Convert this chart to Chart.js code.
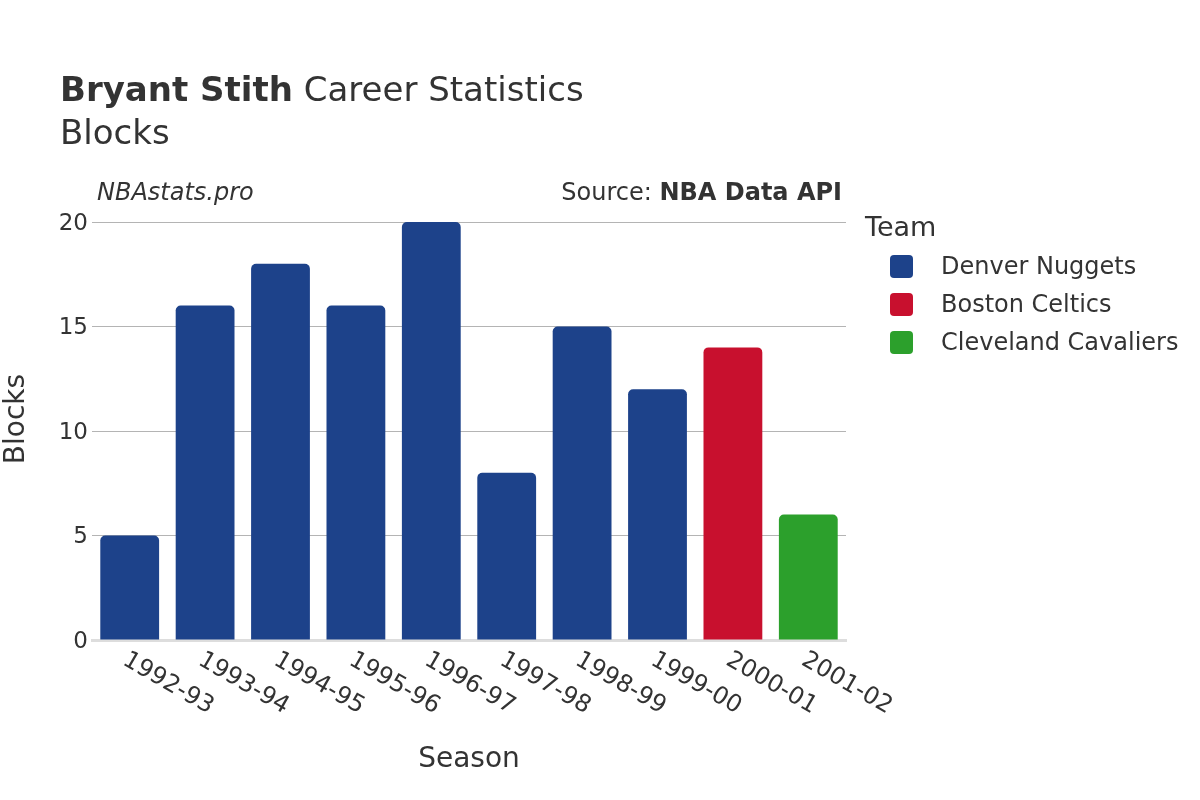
<!DOCTYPE html>
<html>
<head>
<meta charset="utf-8">
<script src="https://cdn.jsdelivr.net/npm/chart.js@4.4.1/dist/chart.umd.min.js"></script>
<style>
    body { margin: 0; background: #fff; font-family: 'DejaVu Sans', sans-serif; color: #333; }
    #wrap { position: relative; width: 1200px; height: 800px; overflow: hidden; }
    #chart { position: absolute; left: 0; top: 0; }
    .txt { position: absolute; white-space: nowrap; line-height: 1; }
    .title { left: 60px; top: 72px; font-size: 34px; }
    .subtitle { left: 60px; top: 115px; font-size: 34px; }
    .brand { left: 97px; top: 180px; font-size: 24px; font-style: italic; }
    .source { right: 358px; top: 180px; font-size: 24px; }
    .legend-title { left: 865px; top: 213px; font-size: 27px; }
    .legend-item { position: absolute; left: 890px; height: 24px; display: flex; align-items: center; font-size: 24px; }
    .legend-item .box { width: 23px; height: 23px; border-radius: 4px; margin-right: 28px; }
</style>
</head>
<body>
<div id="wrap">
    <canvas id="chart" width="1200" height="800"></canvas>
    <div class="txt title"><b>Bryant Stith</b> Career Statistics</div>
    <div class="txt subtitle">Blocks</div>
    <div class="txt brand">NBAstats.pro</div>
    <div class="txt source">Source: <b>NBA Data API</b></div>
    <div class="txt legend-title">Team</div>
    <div id="legend"></div>
</div>
<script>
const seasons = ['1992-93', '1993-94', '1994-95', '1995-96', '1996-97', '1997-98', '1998-99', '1999-00', '2000-01', '2001-02'];
const teams = ['Denver Nuggets', 'Boston Celtics', 'Cleveland Cavaliers'];
const teamColors = ['#1d428a', '#c8102e', '#2ca02c'];
const denverBlocks = [5, 16, 18, 16, 20, 8, 15, 12, null, null];
const bostonBlocks = [null, null, null, null, null, null, null, null, 14, null];
const clevelandBlocks = [null, null, null, null, null, null, null, null, null, 6];
const yTicks = [0, 5, 10, 15, 20];

const seriesData = [denverBlocks, bostonBlocks, clevelandBlocks];

// legend in html
const legendEl = document.getElementById('legend');
teams.forEach((t, i) => {
    const row = document.createElement('div');
    row.className = 'legend-item';
    row.style.top = (254 + i * 38) + 'px';
    row.innerHTML = `<span class="box" style="background:${teamColors[i]}"></span><span>${t}</span>`;
    legendEl.appendChild(row);
});

// rotated season labels + y title, placed off the scales
const extraText = {
    id: 'extraText',
    afterDraw(chart) {
        const ctx = chart.ctx;
        const xs = chart.scales.x;
        ctx.save();
        ctx.font = '24px "DejaVu Sans", sans-serif';
        ctx.fillStyle = '#333';
        ctx.textAlign = 'left';
        ctx.textBaseline = 'top';
        seasons.forEach((s, i) => {
            const x = xs.getPixelForTick(i);
            ctx.save();
            ctx.translate(x + 1, chart.chartArea.bottom + 8);
            ctx.rotate(Math.PI / 6);
            ctx.fillText(s, 0, 0);
            ctx.restore();
        });

        // y title sits a bit above the plot middle, like the original
        ctx.font = '28px "DejaVu Sans", sans-serif';
        ctx.textAlign = 'center';
        ctx.textBaseline = 'middle';
        ctx.translate(17, chart.chartArea.top + 197);
        ctx.rotate(-Math.PI / 2);
        ctx.fillText('Blocks', 0, 0);
        ctx.restore();
    }
};

new Chart(document.getElementById('chart'), {
    type: 'bar',
    data: {
        labels: seasons,
        datasets: teams.map((t, i) => ({
            label: t,
            data: seriesData[i],
            backgroundColor: teamColors[i],
            borderRadius: 5,
            borderSkipped: 'start',
            barPercentage: 0.78,
            categoryPercentage: 1
        }))
    },
    options: {
        responsive: false,
        animation: false,
        layout: { padding: { top: 222, right: 354, left: 0, bottom: 0 } },
        plugins: {
            legend: { display: false },
            tooltip: { enabled: false }
        },
        scales: {
            x: {
                stacked: true,
                grid: { display: false, drawTicks: false },
                border: { display: true, color: '#dddddd', width: 3 },
                ticks: { display: false },
                title: {
                    display: true,
                    text: 'Season',
                    color: '#333',
                    font: { size: 28, family: 'DejaVu Sans' },
                    padding: { top: 0, bottom: 23 }
                },
                afterFit(scale) { scale.height = 160; }
            },
            y: {
                stacked: true,
                min: 0,
                max: 20,
                afterBuildTicks(scale) { scale.ticks = yTicks.map(v => ({ value: v })); },
                grid: {
                    drawTicks: false,
                    color: ctx => ctx.tick && ctx.tick.value === 0 ? 'rgba(0,0,0,0)' : '#b4b4b4',
                    lineWidth: 1
                },
                border: { display: false },
                ticks: {
                    color: '#333',
                    padding: 4,
                    labelOffset: 2,
                    font: { size: 23, family: 'DejaVu Sans' }
                },
                afterFit(scale) { scale.width = 92; }
            }
        }
    },
    plugins: [extraText]
});
</script>
</body>
</html>
